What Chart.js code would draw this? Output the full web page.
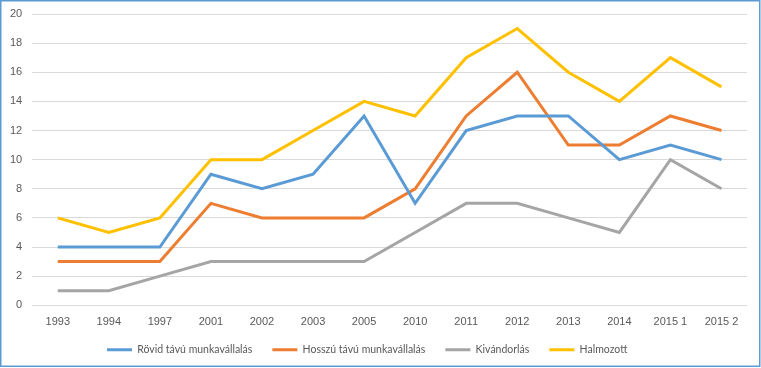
<!DOCTYPE html>
<html><head><meta charset="utf-8">
<script src="https://cdn.jsdelivr.net/npm/chart.js@4/dist/chart.umd.min.js"></script>
<style>html,body{margin:0;padding:0;background:#fff}#wrap{width:761px;height:368px;position:relative}</style>
</head><body><div id="wrap"><canvas id="c" width="761" height="368"></canvas></div>
<script>
const categories = ["1993","1994","1997","2001","2002","2003","2005","2010","2011","2012","2013","2014","2015 1","2015 2"];
const rovid = [4,4,4,9,8,9,13,7,12,13,13,10,11,10];
const hosszu = [3,3,3,7,6,6,6,8,13,16,11,11,13,12];
const kivandorlas = [1,1,2,3,3,3,3,5,7,7,6,5,10,8];
const halmozott = [6,5,6,10,10,12,14,13,17,19,16,14,17,15];
const seriesNames = ["Rövid távú munkavállalás","Hosszú távú munkavállalás","Kivándorlás","Halmozott"];
const colors = ["#5B9BD5","#ED7D31","#A5A5A5","#FFC000"];
const yTicks = {min:0,max:20,step:2};

const font = "'Liberation Sans', Arial, sans-serif";
const legendFont = "Lato, 'Liberation Sans', Arial, sans-serif";
const layoutPlugin = {id:'layoutTweak',
 beforeUpdate(chart){
  const lg = chart.legend;
  if(lg && !lg._patched){
   const orig = lg.fit.bind(lg);
   lg.fit = function(){ orig(); this.height -= 7; };
   lg._patched = true;
  }
 },
 afterLayout(chart){ if(chart.legend){ chart.legend.left = 87; chart.legend.top -= 6; chart.legend.bottom -= 6; } },
 afterDraw(chart){const ctx=chart.ctx;ctx.save();ctx.strokeStyle='#5B9BD5';ctx.lineWidth=1.5;ctx.strokeRect(0.75,0.75,759,365.5);ctx.restore();}};
const ds = [rovid,hosszu,kivandorlas,halmozott].map((d,i)=>({label:seriesNames[i],data:d,borderColor:colors[i],backgroundColor:colors[i],borderWidth:3,pointRadius:0,tension:0,fill:false}));
new Chart(document.getElementById('c'),{
 type:'line',
 data:{labels:categories,datasets:ds},
 options:{responsive:false,animation:false,
  layout:{padding:{left:0,right:14,top:0,bottom:4}},
  plugins:{legend:{position:'bottom',align:'start',labels:{usePointStyle:true,pointStyle:'line',pointStyleWidth:25,boxHeight:3,padding:20,color:'#595959',font:{family:legendFont,size:10.5}}},tooltip:{enabled:false}},
  scales:{
   x:{offset:true,grid:{display:false},border:{display:false},ticks:{color:'#595959',font:{family:font,size:11},padding:2,maxRotation:0}},
   y:{min:yTicks.min,max:yTicks.max,afterFit(s){s.paddingTop=14;},ticks:{stepSize:yTicks.step,color:'#595959',font:{family:font,size:11},padding:10},grid:{color:'#D9D9D9',drawTicks:false},border:{display:false}}
  }
 },
 plugins:[layoutPlugin]
});
</script></body></html>
